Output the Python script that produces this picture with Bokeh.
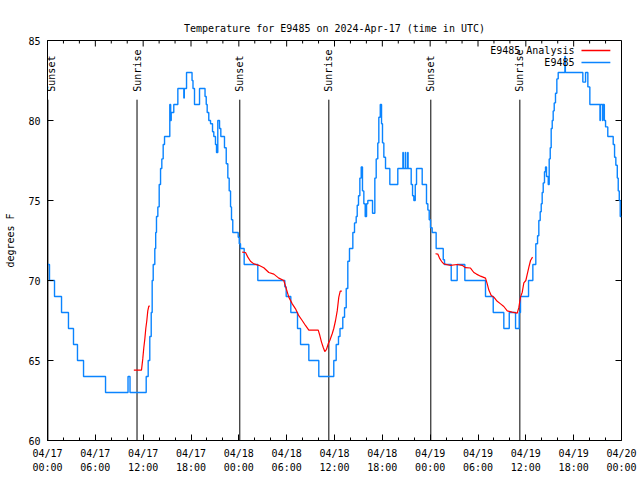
import math
from bokeh.plotting import figure
from bokeh.models import Range1d, FixedTicker, ColumnDataSource, Title
from bokeh.core.properties import value
from bokeh.embed import file_html
from bokeh.resources import INLINE

# ---------------- data (hours since 2024-04-17 00:00 UTC, degrees F) ----------------
obs_hours = [0.00, 0.25, 0.88, 1.76, 2.63, 3.26, 3.76, 4.52, 7.28, 10.10, 10.35, 12.38, 12.63,
             12.83, 13.01, 13.13, 13.26, 13.46, 13.57, 13.67, 13.84, 14.01, 14.18, 14.34, 14.51,
             14.68, 15.34, 15.45, 15.52, 15.84, 16.35, 17.10, 17.16, 17.44, 18.13, 18.25, 18.44,
             19.07, 19.76, 19.91, 20.03, 20.23, 20.45, 20.70, 20.86, 21.07, 21.20, 21.36, 21.58,
             21.74, 22.20, 22.42, 22.62, 22.79, 22.96, 23.08, 23.24, 23.92, 24.05, 24.21, 24.67,
             26.38, 29.77, 29.94, 30.52, 31.36, 31.74, 32.78, 34.03, 35.91, 36.21, 36.50, 36.69,
             37.04, 37.26, 37.47, 37.67, 37.88, 38.30, 38.51, 38.72, 38.85, 39.01, 39.18, 39.35,
             39.51, 39.68, 39.85, 40.02, 40.18, 40.77, 41.06, 41.23, 41.43, 41.56, 41.74, 41.90,
             42.02, 42.19, 42.40, 42.94, 43.94, 44.58, 44.63, 44.88, 44.93, 45.18, 45.23, 45.62,
             45.79, 45.95, 46.13, 46.29, 47.00, 47.54, 47.71, 47.88, 48.04, 48.25, 48.75, 49.64,
             49.80, 50.64, 51.39, 52.35, 54.94, 55.91, 57.24, 57.92, 58.71, 59.17, 59.33, 60.34,
             60.88, 61.25, 61.47, 61.63, 61.80, 61.93, 62.05, 62.18, 62.34, 62.47, 62.59, 62.81,
             62.93, 63.06, 63.18, 63.31, 63.43, 63.56, 63.72, 63.89, 64.06, 64.90, 64.96, 67.15,
             67.49, 67.78, 68.03, 69.30, 69.35, 69.62, 69.67, 69.85, 70.00, 70.28, 70.96, 71.13,
             71.29, 71.47, 71.59, 71.72, 71.84, 72.00]
obs_temp = [71, 70, 69, 68, 67, 66, 65, 64, 63, 64, 63, 64, 65,
            66.5, 68, 70, 71, 72, 73, 74, 74.6, 76, 77, 77.6, 78.5,
            79, 81, 80, 80.5, 81, 82, 81.4, 82, 83, 82.5, 82, 81,
            82, 81.5, 81, 80.5, 80, 79.8, 79.3, 79, 78.5, 78, 80, 79.5,
            79, 78.3, 77.3, 76.4, 75.6, 74.6, 73.8, 73, 72.7, 72.3, 72, 71,
            70, 69.6, 69, 68, 67, 66, 65, 64, 65, 66, 66.5, 67,
            67.7, 68.3, 69.5, 71.2, 72, 73, 73.6, 74, 74.7, 75.3, 76.4, 77.1,
            75.6, 74.8, 74, 74.8, 75, 74.2, 76.4, 77.6, 78.6, 80.2, 81, 79.8,
            78.6, 77.7, 77, 76, 77, 78, 77, 78, 77, 78, 77, 76,
            75.3, 75, 76, 77, 76, 74.8, 74.4, 73.8, 73.3, 73, 72, 71.3,
            71, 70, 71, 70, 69, 68, 67, 68, 67, 68, 69, 70,
            71, 72.3, 72.8, 73.75, 74.3, 74.8, 75.5, 76.1, 76.8, 77.1, 76.5, 76,
            77.6, 78.3, 79.5, 80, 80.6, 81.1, 81.7, 82.6, 83, 84, 83, 82.4,
            83, 82.1, 81, 80, 81, 80, 81, 80, 79.6, 79, 78.5, 77.7,
            77.2, 76.4, 75.6, 75, 74, 74]

ana1_hours = [10.83, 11.79, 11.95, 12.08, 12.21, 12.33, 12.46, 12.58, 12.71, 12.83]
ana1_temp = [64.4, 64.4, 65.1, 65.8, 66.35, 67.0, 67.5, 68.1, 68.4, 68.4]
ana2_hours = [24.42, 24.84, 25.13, 25.46, 25.88, 26.51, 27.13, 27.76, 28.39, 29.01, 29.64, 29.94,
              30.27, 30.70, 31.11, 31.52, 31.95, 32.36, 32.78, 33.96, 34.16, 34.37, 34.58, 34.78,
              35.00, 35.21, 35.41, 35.71, 35.91, 36.13, 36.34, 36.54, 36.72, 36.92]
ana2_temp = [71.77, 71.75, 71.46, 71.2, 71.04, 70.95, 70.8, 70.5, 70.4, 70.15, 70.0, 69.5,
             68.96, 68.54, 68.23, 67.8, 67.5, 67.19, 66.9, 66.9, 66.56, 66.15, 65.83, 65.56,
             65.7, 66.04, 66.25, 66.67, 67.0, 67.5, 68.1, 68.96, 69.33, 69.33]
ana3_hours = [48.67, 48.96, 49.17, 49.42, 49.71, 50.55, 51.39, 52.02, 52.43, 53.06, 53.48, 53.81,
              54.32, 54.94, 55.15, 55.36, 55.66, 55.99, 56.41, 56.83, 57.24, 57.67, 58.29, 58.92,
              59.12, 59.33, 59.55, 59.75, 60.00, 60.18, 60.38, 60.59, 60.84]
ana3_temp = [71.67, 71.65, 71.4, 71.2, 71.04, 70.94, 71.0, 70.95, 70.8, 70.78, 70.5, 70.4,
             70.27, 70.15, 69.8, 69.4, 69.06, 68.96, 68.7, 68.54, 68.375, 68.1, 68.02, 67.96,
             68.3, 68.96, 69.27, 69.85, 70.0, 70.4, 70.83, 71.25, 71.46]

event_hours = [0.05, 11.23, 24.12, 35.29, 48.08, 59.25]
event_labels = ["Sunset", "Sunrise", "Sunset", "Sunrise", "Sunset", "Sunrise"]

x_tick_hours = [0, 6, 12, 18, 24, 30, 36, 42, 48, 54, 60, 66, 72]
x_tick_labels = ["04/17\n00:00", "04/17\n06:00", "04/17\n12:00", "04/17\n18:00",
                 "04/18\n00:00", "04/18\n06:00", "04/18\n12:00", "04/18\n18:00",
                 "04/19\n00:00", "04/19\n06:00", "04/19\n12:00", "04/19\n18:00",
                 "04/20\n00:00"]
x_minor_hours = [h for h in range(0, 73, 2) if h % 6 != 0]
y_ticks = [60, 65, 70, 75, 80, 85]

series_names = ["E9485 Analysis", "E9485"]
title_text = "Temperature for E9485 on 2024-Apr-17 (time in UTC)"
y_label_text = "degrees F"

# ---------------- style ----------------
FONT = "DejaVu Sans Mono"
FS = "10px"
BLUE = "#0a84ff"
RED = "#ff0000"
X0, X1, Y0, Y1 = 0, 72, 60, 85
EVENT_LINE_TOP = 81.3
EVENT_LABEL_Y = 81.8
PX_PER_HOUR = 574 / (X1 - X0)
PX_PER_DEG = 400 / (Y1 - Y0)
MAJ_TICK, MIN_TICK = 6, 3
LABEL_HALF_PX = 4  # half the thickness of a rotated label, keeps it inside the frame

p = figure(width=640, height=480, x_range=Range1d(X0, X1), y_range=Range1d(Y0, Y1),
           output_backend="svg", toolbar_location=None, title=None,
           min_border_left=47, min_border_right=19, min_border_top=40, min_border_bottom=40)
p.background_fill_color = "white"
p.border_fill_color = "white"
p.outline_line_color = "black"
p.outline_line_width = 1
p.xgrid.visible = False
p.ygrid.visible = False

xt = FixedTicker(ticks=x_tick_hours, minor_ticks=x_minor_hours)
yt = FixedTicker(ticks=y_ticks, minor_ticks=[])


def style_axis(ax):
    ax.axis_line_color = "black"
    ax.major_tick_in = MAJ_TICK
    ax.major_tick_out = 0
    ax.minor_tick_in = MIN_TICK
    ax.minor_tick_out = 0
    ax.major_tick_line_color = "black"
    ax.minor_tick_line_color = "black"
    ax.major_label_text_font = FONT
    ax.major_label_text_font_size = FS
    ax.major_label_text_color = "black"


xa = p.xaxis[0]
xa.ticker = xt
xa.major_label_overrides = {t: l for t, l in zip(x_tick_hours, x_tick_labels)}
xa.major_label_standoff = 7
xa.major_label_text_line_height = 1.3
style_axis(xa)

ya = p.yaxis[0]
ya.ticker = yt
ya.major_label_standoff = 7
ya.axis_label = y_label_text
ya.axis_label_text_font = FONT
ya.axis_label_text_font_size = FS
ya.axis_label_text_font_style = "normal"
ya.axis_label_text_color = "black"
ya.axis_label_standoff = 9
style_axis(ya)

title = Title(text=title_text, align="center", text_font=FONT, text_font_size=FS,
              text_font_style="normal", text_color="black", standoff=14)
p.add_layout(title, "above")

# mirrored ticks on the top and right edges of the frame
top_x = x_tick_hours + x_minor_hours
top_len = [MAJ_TICK / PX_PER_DEG] * len(x_tick_hours) + [MIN_TICK / PX_PER_DEG] * len(x_minor_hours)
p.segment(x0=top_x, y0=[Y1] * len(top_x), x1=top_x, y1=[Y1 - l for l in top_len],
          line_color="black", line_width=1)
p.segment(x0=[X1] * len(y_ticks), y0=y_ticks, x1=[X1 - MAJ_TICK / PX_PER_HOUR] * len(y_ticks),
          y1=y_ticks, line_color="black", line_width=1)

# sunrise / sunset markers
label_x = [max(h, X0 + LABEL_HALF_PX / PX_PER_HOUR) for h in event_hours]
ev = ColumnDataSource(dict(x=event_hours, lx=label_x, y0=[Y0] * len(event_hours),
                           y1=[EVENT_LINE_TOP] * len(event_hours),
                           ly=[EVENT_LABEL_Y] * len(event_hours), text=event_labels))
p.segment(x0="x", y0="y0", x1="x", y1="y1", source=ev, line_color="black", line_width=1)
p.text(x="lx", y="ly", text="text", source=ev, angle=math.pi / 2, text_align="left",
       text_baseline="middle", text_font=value(FONT), text_font_size=FS, text_color="black")

# series
p.step(obs_hours, obs_temp, mode="after", line_color=BLUE, line_width=1.4)
for hx, tv in ((ana1_hours, ana1_temp), (ana2_hours, ana2_temp), (ana3_hours, ana3_temp)):
    p.line(hx, tv, line_color=RED, line_width=1.2)

# legend (gnuplot style: text then sample)
leg_text_x = 66.1
leg_line_x0, leg_line_x1 = 66.98, 70.6
leg_ys = [84.375, 83.625]
leg_colors = [RED, BLUE]
p.text(x=[leg_text_x] * 2, y=leg_ys, text=series_names, text_align="right",
       text_baseline="middle", text_font=value(FONT), text_font_size=FS, text_color="black")
p.segment(x0=[leg_line_x0] * 2, y0=leg_ys, x1=[leg_line_x1] * 2, y1=leg_ys,
          line_color=leg_colors, line_width=1.5)

open("out.html", "w").write(file_html(p, INLINE))
